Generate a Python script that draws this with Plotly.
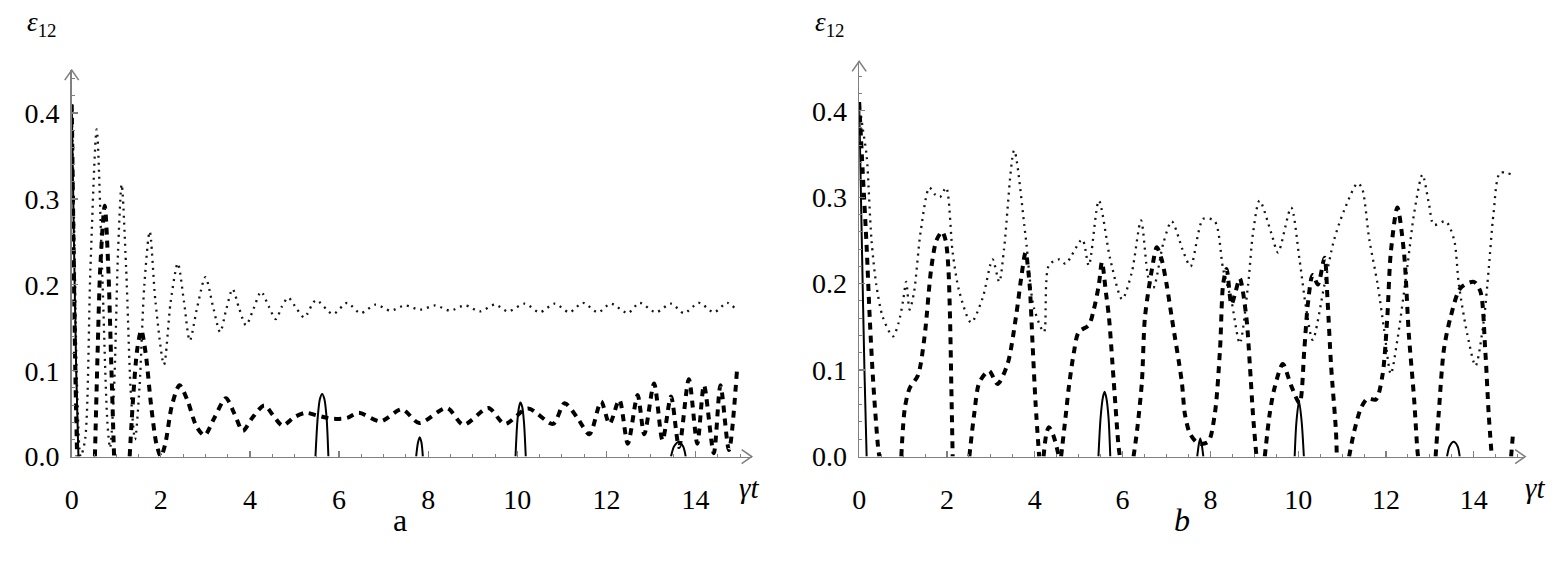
import plotly.graph_objects as go

# ---------------- Panel a data ----------------
A_SOLID_T = [0, 0.05, 0.1, 0.15, None,
             5.47, 5.52, 5.57, 5.62, 5.67, 5.72, 5.76, None,
             7.73, 7.77, 7.81, 7.85, 7.88, None,
             9.96, 10.0, 10.04, 10.07, 10.11, 10.15, 10.19, None,
             13.45, 13.52, 13.62, 13.72, 13.78]
A_SOLID_V = [0.41, 0.25, 0.1, 0.0, None,
             0.0, 0.045, 0.067, 0.073, 0.067, 0.045, 0.0, None,
             0.0, 0.016, 0.0226, 0.016, 0.0, None,
             0.0, 0.04, 0.058, 0.063, 0.058, 0.04, 0.0, None,
             0.0, 0.012, 0.017, 0.012, 0.0]

A_DASH_T = [0, 0.04, 0.08, 0.12, None,
            0.52, 0.58, 0.64, 0.74, 0.82, 0.88, 0.95, None,
            1.30, 1.38, 1.47, 1.56, 1.66, 1.78, 1.9, 2.0, 2.1, 2.25, 2.42, 2.6, 2.8, 2.98,
            3.2, 3.46, 3.65, 3.84, 4.05, 4.32, 4.52, 4.73, 5.0, 5.25, 5.5, 5.85, 6.18, 6.44,
            6.93, 7.41, 7.80, 8.42, 8.79, 9.35, 9.72, 10.24, 10.80, 11.06, 11.35, 11.62,
            11.88, 12.07, 12.29, 12.48, 12.70, 12.85, 13.07, 13.26, 13.45, 13.63, 13.85,
            14.04, 14.19, 14.41, 14.56, 14.75, 14.93]
A_DASH_V = [0.41, 0.25, 0.1, 0.0, None,
            0.0, 0.12, 0.22, 0.292, 0.22, 0.12, 0.0, None,
            0.0, 0.07, 0.125, 0.147, 0.12, 0.06, 0.015, 0.0, 0.015, 0.06, 0.083, 0.065, 0.035, 0.0245,
            0.045, 0.068, 0.05, 0.030, 0.045, 0.0595, 0.048, 0.036, 0.046, 0.051, 0.048, 0.044, 0.045, 0.051,
            0.041, 0.055, 0.039, 0.0565, 0.037, 0.0565, 0.038, 0.056, 0.038, 0.062, 0.045, 0.026,
            0.064, 0.038, 0.066, 0.015, 0.0716, 0.026, 0.085, 0.019, 0.070, 0.011, 0.090,
            0.015, 0.083, 0.004, 0.083, 0.0075, 0.10]

A_DOT_T = [0, 0.06, 0.12, 0.2, 0.3, 0.42, 0.56, 0.68, 0.8, 0.86, 0.95, 1.04, 1.12, 1.22, 1.33,
           1.42, 1.52, 1.63, 1.75, 1.88, 2.07, 2.22, 2.38, 2.52, 2.65, 2.82, 3.0, 3.17, 3.33,
           3.47, 3.61, 3.76, 3.91, 4.08, 4.25, 4.42, 4.58, 4.72, 4.86, 5.05, 5.22, 5.48,
           5.86, 6.18, 6.48, 6.82, 7.15, 7.49, 7.82, 8.16, 8.49, 8.83, 9.16, 9.50, 9.79,
           10.17, 10.50, 10.84, 11.17, 11.47, 11.81, 12.10, 12.48, 12.74, 13.11, 13.45,
           13.74, 14.08, 14.41, 14.71, 14.9]
A_DOT_V = [0.41, 0.25, 0.08, 0.0, 0.02, 0.22, 0.381, 0.22, 0.04, 0.01, 0.08, 0.24, 0.317, 0.22, 0.07,
           0.02, 0.08, 0.2, 0.262, 0.18, 0.107, 0.18, 0.225, 0.18, 0.135, 0.175, 0.209, 0.175, 0.145,
           0.172, 0.195, 0.172, 0.153, 0.172, 0.192, 0.175, 0.160, 0.175, 0.185, 0.172, 0.162, 0.182,
           0.166, 0.179, 0.167, 0.177, 0.170, 0.176, 0.171, 0.176, 0.170, 0.176, 0.169, 0.177, 0.169,
           0.178, 0.168, 0.178, 0.168, 0.179, 0.168, 0.178, 0.167, 0.179, 0.168, 0.178,
           0.167, 0.179, 0.168, 0.179, 0.172]

# ---------------- Panel b data ----------------
B_SOLID_T = [0, 0.06, 0.12, 0.17, None,
             5.45, 5.5, 5.55, 5.59, 5.63, 5.68, 5.72, None,
             7.70, 7.74, 7.77, 7.80, 7.84, None,
             9.92, 9.96, 10.02, 10.08, 10.13, None,
             13.39, 13.45, 13.54, 13.63, 13.68]
B_SOLID_V = [0.41, 0.25, 0.1, 0.0, None,
             0.0, 0.045, 0.068, 0.075, 0.068, 0.045, 0.0, None,
             0.0, 0.015, 0.021, 0.015, 0.0, None,
             0.0, 0.04, 0.064, 0.04, 0.0, None,
             0.0, 0.012, 0.017, 0.012, 0.0]

B_DASH_T = [0, 0.08, 0.17, 0.24, 0.32, 0.43, 0.46, None,
            0.96, 1.04, 1.15, 1.34, 1.49, 1.64, 1.76, 1.89, 1.97, 2.03, 2.07, 2.10, 2.13, None,
            2.51, 2.62, 2.74, 2.96, 3.15, 3.38, 3.57, 3.70, 3.79, 3.88, 3.95, 4.02, 4.10, None,
            4.20, 4.26, 4.32, 4.42, 4.55, None,
            4.60, 4.70, 4.78, 4.89, 5.0, 5.23, 5.34, 5.46, 5.53, 5.62, 5.69, 5.80, 5.91, 5.94, None,
            6.25, 6.33, 6.44, 6.51, 6.67, 6.78, 6.89, 7.0, 7.12, 7.35, 7.42, 7.54, 7.73, 7.95,
            8.10, 8.22, 8.29, 8.37, 8.48, 8.57, 8.67, 8.82, 8.90, 8.97, 9.05, None,
            9.24, 9.35, 9.46, 9.65, 9.84, 10.03, 10.14, 10.22, 10.33, 10.45, 10.60, 10.67, 10.75,
            10.86, 10.88, None,
            11.16, 11.28, 11.43, 11.58, 11.77, 11.92, 12.03, 12.11, 12.26, 12.41, 12.52, 12.64,
            12.71, 12.73, None,
            13.13, 13.20, 13.32, 13.47, 13.70, 14.0, 14.15, 14.26, 14.34, 14.41, None,
            14.85, 14.9]
B_DASH_V = [0.41, 0.33, 0.243, 0.161, 0.086, 0.011, 0.0, None,
            0.0, 0.056, 0.079, 0.094, 0.139, 0.217, 0.25, 0.260, 0.25, 0.22, 0.16, 0.08, 0.0, None,
            0.0, 0.049, 0.086, 0.099, 0.084, 0.107, 0.161, 0.21, 0.236, 0.2, 0.13, 0.06, 0.0, None,
            0.0, 0.025, 0.034, 0.025, 0.0, None,
            0.0, 0.045, 0.082, 0.12, 0.144, 0.152, 0.169, 0.199, 0.225, 0.19, 0.161, 0.086, 0.011, 0.0, None,
            0.0, 0.030, 0.086, 0.161, 0.217, 0.242, 0.228, 0.2, 0.161, 0.086, 0.049, 0.026, 0.015, 0.017,
            0.049, 0.124, 0.199, 0.217, 0.176, 0.19, 0.206, 0.161, 0.105, 0.049, 0.0, None,
            0.0, 0.049, 0.079, 0.107, 0.082, 0.062, 0.124, 0.176, 0.21, 0.199, 0.23, 0.18, 0.105,
            0.030, 0.0, None,
            0.0, 0.030, 0.056, 0.067, 0.066, 0.094, 0.161, 0.236, 0.288, 0.236, 0.142, 0.067,
            0.011, 0.0, None,
            0.0, 0.049, 0.124, 0.161, 0.195, 0.202, 0.191, 0.124, 0.049, 0.0, None,
            0.0, 0.03]

B_DOT_T = [0, 0.08, 0.17, 0.28, 0.39, 0.54, 0.77, 0.9, 1.0, 1.07, 1.15, 1.25, 1.4, 1.6, 1.73,
           1.84, 1.98, 2.13, 2.28, 2.55, 2.81, 3.04, 3.19, 3.3, 3.53, 3.79, 3.98, 4.21, 4.32,
           4.55, 4.70, 5.08, 5.23, 5.46, 5.72, 5.99, 6.21, 6.42, 6.59, 6.70, 6.93, 7.12, 7.39,
           7.55, 7.84, 8.10, 8.29, 8.48, 8.67, 8.86, 8.97, 9.12, 9.39, 9.54, 9.84, 10.03, 10.18,
           10.33, 10.60, 10.82, 11.05, 11.35, 11.45, 11.62, 11.81, 11.96, 12.11, 12.26, 12.49,
           12.64, 12.83, 12.98, 13.09, 13.36, 13.55, 13.66, 13.85, 14.04, 14.22, 14.34, 14.45,
           14.60, 14.87]
B_DOT_V = [0.41, 0.38, 0.348, 0.251, 0.199, 0.161, 0.139, 0.155, 0.18, 0.202, 0.17, 0.19, 0.26, 0.311, 0.303,
           0.300, 0.311, 0.236, 0.191, 0.155, 0.183, 0.228, 0.202, 0.24, 0.354, 0.255, 0.172, 0.144, 0.221,
           0.228, 0.223, 0.251, 0.221, 0.296, 0.228, 0.182, 0.213, 0.273, 0.206, 0.195, 0.247, 0.272, 0.236,
           0.220, 0.275, 0.272, 0.217, 0.18, 0.131, 0.199, 0.258, 0.296, 0.258, 0.236, 0.288, 0.228, 0.172,
           0.135, 0.199, 0.251, 0.285, 0.316, 0.311, 0.251, 0.199, 0.146, 0.0955, 0.135, 0.221,
           0.281, 0.326, 0.292, 0.268, 0.272, 0.251, 0.199, 0.142, 0.105, 0.154, 0.217, 0.281,
           0.328, 0.326]

X_TICKS = [0, 2, 4, 6, 8, 10, 12, 14]
X_TICK_TEXT = ["0", "2", "4", "6", "8", "10", "12", "14"]
Y_TICKS = [0.0, 0.1, 0.2, 0.3, 0.4]
Y_TICK_TEXT = ["0.0", "0.1", "0.2", "0.3", "0.4"]
PANEL_LABELS = ["a", "<i>b</i>"]

# ---------------- Layout geometry (screen pixels) ----------------
# the page body keeps its default 8px margin, so the figure is sized to fit exactly in the window
OFF = 8
SCREEN_W, SCREEN_H = 1564, 566
W, H = SCREEN_W - 2 * OFF, SCREEN_H - 2 * OFF


def fx(xpix):
    return (xpix - OFF) / W


def fy(ypix):
    return 1 - (ypix - OFF) / H


A_X0, A_X1, A_XMAX = 65, 748, 15.26
B_X0, B_X1, B_XMAX = 856, 1525, 15.17
A_Y0, A_Y1, A_YMAX = 470, 72, 0.45
B_Y0, B_Y1, B_YMAX = 470, 63, 0.457

AXIS_COL = "#808080"
FONT = "Liberation Serif, DejaVu Serif, Times New Roman, serif"

fig = go.Figure()


def add_panel(xa, ya, ts, vs, td, vd, to, vo):
    fig.add_trace(go.Scatter(x=to, y=vo, mode="lines", xaxis=xa, yaxis=ya,
                             line=dict(color="#151515", width=2.3, dash="2px,5px", shape="spline", smoothing=0.8),
                             connectgaps=False, showlegend=False, hoverinfo="skip"))
    fig.add_trace(go.Scatter(x=td, y=vd, mode="lines", xaxis=xa, yaxis=ya,
                             line=dict(color="black", width=4, dash="7px,6px", shape="spline", smoothing=0.8),
                             connectgaps=False, showlegend=False, hoverinfo="skip"))
    fig.add_trace(go.Scatter(x=ts, y=vs, mode="lines", xaxis=xa, yaxis=ya,
                             line=dict(color="black", width=2, shape="spline", smoothing=0.8),
                             connectgaps=False, showlegend=False, hoverinfo="skip"))


add_panel("x", "y", A_SOLID_T, A_SOLID_V, A_DASH_T, A_DASH_V, A_DOT_T, A_DOT_V)
add_panel("x2", "y2", B_SOLID_T, B_SOLID_V, B_DASH_T, B_DASH_V, B_DOT_T, B_DOT_V)


def xaxis_cfg(x0, x1, xmax, anchor):
    return dict(domain=[fx(x0), fx(x1)], range=[0, xmax], anchor=anchor,
                showgrid=False, zeroline=False, showline=True, linecolor=AXIS_COL, linewidth=1.6,
                ticks="inside", ticklen=6, tickwidth=1.2, tickcolor=AXIS_COL,
                tickvals=X_TICKS, ticktext=X_TICK_TEXT, ticklabelstandoff=17,
                minor=dict(dtick=0.5, tick0=0, ticks="inside", ticklen=3, tickwidth=1, tickcolor=AXIS_COL),
                tickfont=dict(family=FONT, size=28, color="black"), fixedrange=True)


def yaxis_cfg(y0, y1, ymax, anchor):
    return dict(domain=[fy(y0), fy(y1)], range=[0, ymax], anchor=anchor,
                showgrid=False, zeroline=False, showline=True, linecolor=AXIS_COL, linewidth=1.6,
                ticks="inside", ticklen=6, tickwidth=1.2, tickcolor=AXIS_COL,
                tickvals=Y_TICKS, ticktext=Y_TICK_TEXT, ticklabelstandoff=5,
                minor=dict(dtick=0.02, tick0=0, ticks="inside", ticklen=3, tickwidth=1, tickcolor=AXIS_COL),
                tickfont=dict(family=FONT, size=28, color="black"), fixedrange=True)


fig.update_layout(
    width=W, height=H, margin=dict(l=0, r=0, t=0, b=0),
    paper_bgcolor="white", plot_bgcolor="white", hovermode=False,
    xaxis=xaxis_cfg(A_X0, A_X1, A_XMAX, "y"),
    yaxis=yaxis_cfg(A_Y0, A_Y1, A_YMAX, "x"),
    xaxis2=xaxis_cfg(B_X0, B_X1, B_XMAX, "y2"),
    yaxis2=yaxis_cfg(B_Y0, B_Y1, B_YMAX, "x2"),
)

# arrow heads at the axis ends (paper-referenced, pixel-sized chevrons)
shapes = []
for x0, x1, y0, y1 in [(A_X0, A_X1, A_Y0, A_Y1), (B_X0, B_X1, B_Y0, B_Y1)]:
    shapes.append(dict(type="path", xref="paper", yref="paper", xsizemode="pixel", ysizemode="pixel",
                       xanchor=fx(x1), yanchor=fy(y0), path="M -10,-7 L 0,0 L -10,7",
                       line=dict(color=AXIS_COL, width=1.6), fillcolor="rgba(0,0,0,0)"))
    shapes.append(dict(type="path", xref="paper", yref="paper", xsizemode="pixel", ysizemode="pixel",
                       xanchor=fx(x0), yanchor=fy(y1), path="M -7,-10 L 0,0 L 7,-10",
                       line=dict(color=AXIS_COL, width=1.6), fillcolor="rgba(0,0,0,0)"))
fig.update_layout(shapes=shapes)

ann = []
for xpix in [18, 810]:
    ann.append(dict(text="<i>ε</i><sub>12</sub>", x=fx(xpix), y=fy(24), xref="paper", yref="paper",
                    xanchor="left", yanchor="middle", showarrow=False,
                    font=dict(family=FONT, size=27, color="black")))
for xpix in [733, 1523]:
    ann.append(dict(text="<i>γt</i>", x=fx(xpix), y=fy(502), xref="paper", yref="paper",
                    xanchor="left", yanchor="middle", showarrow=False,
                    font=dict(family=FONT, size=29, color="black")))
for xpix, lab in zip([395, 1180], PANEL_LABELS):
    ann.append(dict(text=lab, x=fx(xpix), y=fy(535), xref="paper", yref="paper",
                    xanchor="center", yanchor="middle", showarrow=False,
                    font=dict(family=FONT, size=32, color="black")))
fig.update_layout(annotations=ann)

fig.write_html("out.html", config={"displayModeBar": False, "staticPlot": True})
